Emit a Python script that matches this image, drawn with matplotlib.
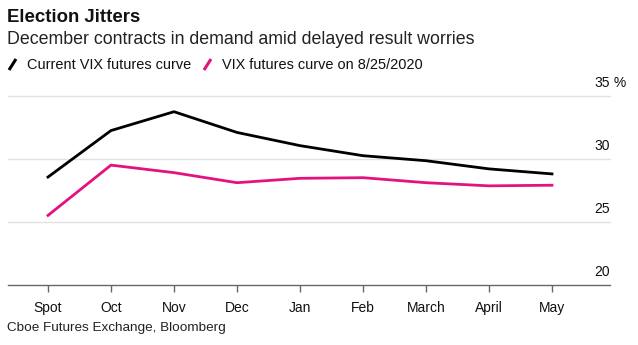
import matplotlib.pyplot as plt
from matplotlib.lines import Line2D

# VIX futures term structure, current vs 8/25/2020
months = ['Spot', 'Oct', 'Nov', 'Dec', 'Jan', 'Feb', 'March', 'April', 'May']
current_curve = [28.55, 32.25, 33.75, 32.1, 31.05, 30.25, 29.85, 29.2, 28.8]
aug25_curve = [25.5, 29.5, 28.9, 28.1, 28.45, 28.5, 28.1, 27.85, 27.9]
y_ticks = [20, 25, 30, 35]

BLACK = '#000000'
PINK = '#e3127f'
GRID = '#e2e2e2'
AXIS = '#666666'

plt.rcParams['font.family'] = ['Liberation Sans', 'DejaVu Sans']

W, H = 638, 345
fig = plt.figure(figsize=(W / 100, H / 100), dpi=100)
fig.patch.set_facecolor('white')


def fx(px):
    return px / W


def fy(py):
    return 1 - py / H


ax = fig.add_axes([fx(8), fy(284.5), fx(610 - 8), fy(96) - fy(284.5)])
x = list(range(len(months)))
ax.plot(x, current_curve, color=BLACK, lw=2.0, solid_joinstyle='round', zorder=3)
ax.plot(x, aug25_curve, color=PINK, lw=2.0, solid_joinstyle='round', zorder=3)

ax.set_xlim(-40 / 63, 8 + 58 / 63)
ax.set_ylim(20, 35)
for v in y_ticks[1:]:
    ax.axhline(v, color=GRID, lw=1.0, zorder=1, clip_on=False)

for side in ('top', 'right', 'left'):
    ax.spines[side].set_visible(False)
ax.spines['bottom'].set_color(AXIS)
ax.spines['bottom'].set_linewidth(1.0)
ax.set_yticks([])
ax.set_xticks(x)
ax.set_xticklabels(months, fontsize=10, color='#111111')
ax.tick_params(axis='x', length=5, width=1.0, color=AXIS, pad=7)

# y labels sit above their gridlines on the right
for v in y_ticks:
    ax.annotate(str(v), xy=(1, v), xycoords=('axes fraction', 'data'),
                xytext=(0, 4), textcoords='offset points',
                ha='right', va='bottom', fontsize=10, color='#111111')
ax.annotate(' %', xy=(1, 35), xycoords=('axes fraction', 'data'),
            xytext=(0, 4), textcoords='offset points',
            ha='left', va='bottom', fontsize=10, color='#111111')

fig.text(fx(7), fy(18), 'Election Jitters', fontsize=13.4, fontweight='bold',
         va='center', ha='left', color='#111111')
fig.text(fx(7), fy(40), 'December contracts in demand amid delayed result worries',
         fontsize=12.8, va='center', ha='left', color='#222222')

# legend with slanted line keys
legend = [('Current VIX futures curve', BLACK, 9), ('VIX futures curve on 8/25/2020', PINK, 204)]
for label, color, px in legend:
    fig.add_artist(Line2D([fx(px), fx(px + 7)], [fy(70), fy(59)], color=color,
                          lw=2.2, solid_capstyle='butt', transform=fig.transFigure))
    fig.text(fx(px + 18), fy(65), label, fontsize=10.45, va='center', ha='left',
             color='#111111')

fig.text(fx(7), fy(328), 'Cboe Futures Exchange, Bloomberg', fontsize=9.7,
         va='center', ha='left', color='#222222')

fig.savefig('out.png', dpi=100, facecolor='white')
